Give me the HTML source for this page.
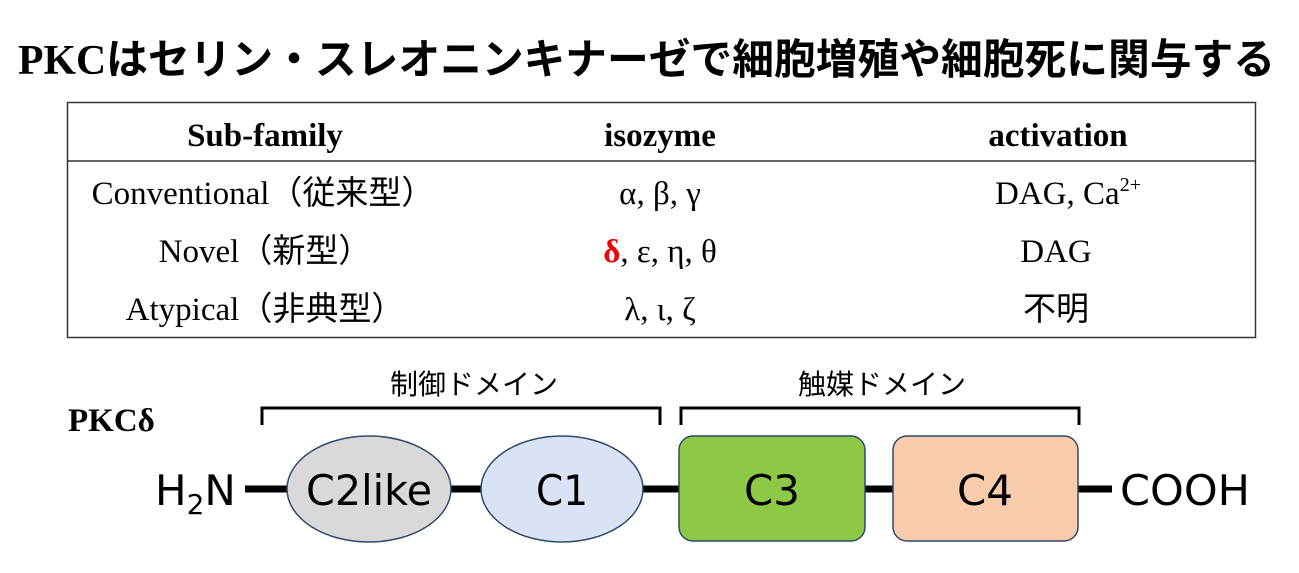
<!DOCTYPE html>
<html><head><meta charset="utf-8"><style>
html,body{margin:0;padding:0;background:#fff;}
body{width:1299px;height:573px;position:relative;overflow:hidden;}
svg{position:absolute;left:0;top:0;}
</style></head><body>
<svg width="1299" height="573" viewBox="0 0 1299 573" xmlns="http://www.w3.org/2000/svg">
<text x="18" y="74" font-family="Liberation Serif, Noto Sans CJK JP, sans-serif" font-weight="bold" font-size="42" fill="#000" textLength="1257" lengthAdjust="spacingAndGlyphs"><tspan font-family="Liberation Serif">PKC</tspan><tspan font-family="Noto Sans CJK JP">はセリン・スレオニンキナーゼで細胞増殖や細胞死に関与する</tspan></text>
<rect x="67.5" y="102.5" width="1188" height="235" fill="none" stroke="#333" stroke-width="1.5"/>
<line x1="67" y1="161" x2="1256" y2="161" stroke="#333" stroke-width="1.5"/>
<g font-family="Liberation Serif, Noto Sans CJK JP, serif" font-size="33" fill="#000" text-anchor="middle">
<g font-weight="bold"><text x="265" y="146">Sub-family</text><text x="660" y="146">isozyme</text><text x="1058" y="146">activation</text></g>
<text x="263" y="204">Conventional<tspan font-family="Noto Sans CJK JP">（従来型）</tspan></text>
<text x="660" y="204">α, β, γ</text>
<text x="1068" y="204">DAG, Ca<tspan font-size="20" dy="-13">2+</tspan></text>
<text x="265" y="262">Novel<tspan font-family="Noto Sans CJK JP">（新型）</tspan></text>
<text x="660" y="262"><tspan fill="#e00" font-weight="bold">δ</tspan>, ε, η, θ</text>
<text x="1056" y="262">DAG</text>
<text x="265" y="320">Atypical<tspan font-family="Noto Sans CJK JP">（非典型）</tspan></text>
<text x="660" y="320">λ, ι, ζ</text>
<text x="1056" y="320" font-family="Noto Sans CJK JP">不明</text>
</g>
<g font-family="Noto Sans CJK JP, sans-serif" font-size="28" text-anchor="middle" fill="#000">
<text x="474" y="394">制御ドメイン</text><text x="882" y="394">触媒ドメイン</text>
</g>
<path d="M262 425 V408 H660 V425" fill="none" stroke="#000" stroke-width="3"/>
<path d="M681 425 V408 H1079 V425" fill="none" stroke="#000" stroke-width="3"/>
<text x="68" y="431" font-family="Liberation Serif, serif" font-weight="bold" font-size="33">PKCδ</text>
<line x1="245" y1="489" x2="1112" y2="489" stroke="#000" stroke-width="7"/>
<ellipse cx="369" cy="489" rx="82" ry="53" fill="#d9d9d9" stroke="#2f4a6a" stroke-width="1.5"/>
<ellipse cx="562" cy="489" rx="81" ry="53" fill="#dae3f3" stroke="#2f4a6a" stroke-width="1.5"/>
<rect x="679" y="436" width="186" height="105" rx="14" fill="#8dc947" stroke="#2f4a6a" stroke-width="1.5"/>
<rect x="893" y="436" width="185" height="105" rx="14" fill="#f8cbad" stroke="#2f4a6a" stroke-width="1.5"/>
<g font-family="DejaVu Sans, Liberation Sans, sans-serif" font-size="42" fill="#000" text-anchor="middle">
<text x="369" y="505" textLength="126" lengthAdjust="spacingAndGlyphs">C2like</text>
<text x="562" y="505" textLength="52" lengthAdjust="spacingAndGlyphs">C1</text>
<text x="772" y="505" textLength="56" lengthAdjust="spacingAndGlyphs">C3</text>
<text x="985" y="505" textLength="56" lengthAdjust="spacingAndGlyphs">C4</text>
<text x="155" y="505" text-anchor="start">H<tspan font-size="28" dy="9">2</tspan><tspan dy="-9">N</tspan></text>
<text x="1120" y="505" text-anchor="start" textLength="130" lengthAdjust="spacingAndGlyphs">COOH</text>
</g>
</svg>
</body></html>
